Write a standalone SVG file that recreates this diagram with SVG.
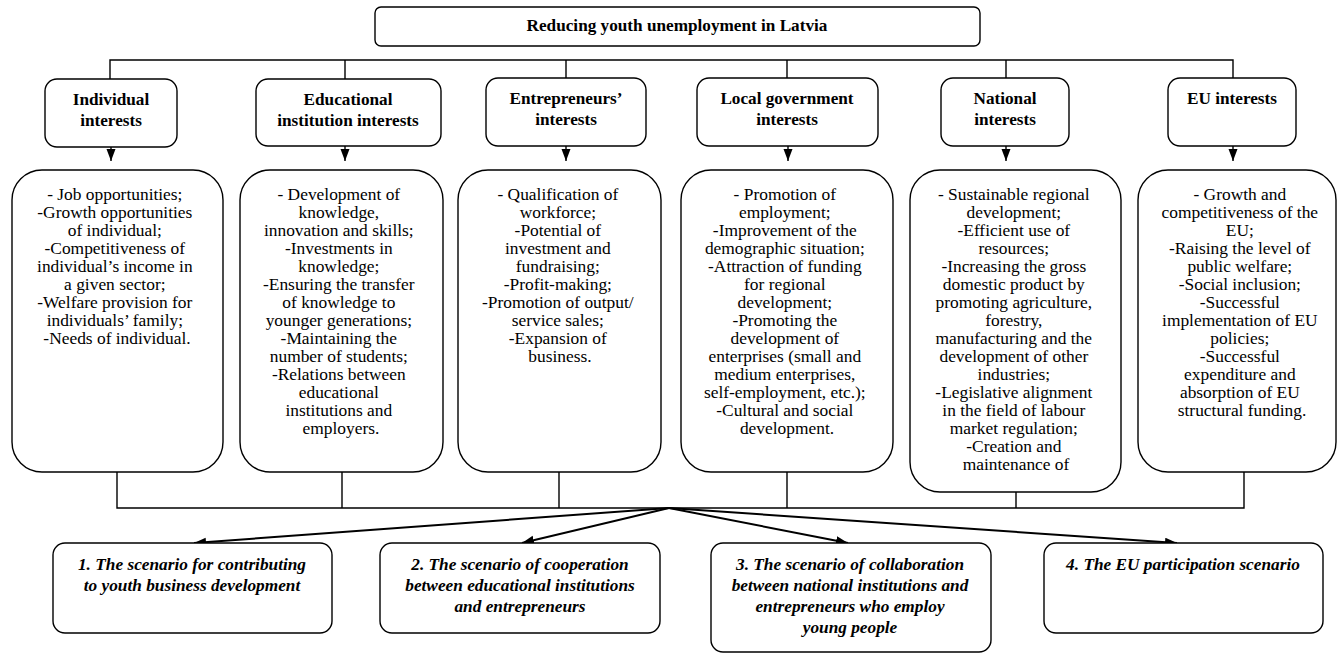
<svg xmlns="http://www.w3.org/2000/svg" width="1338" height="656" viewBox="0 0 1338 656">
<style>
.box{fill:#fff;stroke:#000;stroke-width:1.4}
.ln{fill:none;stroke:#000;stroke-width:1.4}
.ar{fill:none;stroke:#000;stroke-width:2}
.hd{font-family:"Liberation Serif","Times New Roman",serif;font-weight:bold;font-size:17.2px;text-anchor:middle;fill:#000}
.bd{font-family:"Liberation Serif","Times New Roman",serif;font-size:17.4px;text-anchor:middle;fill:#000}
.sc{font-family:"Liberation Serif","Times New Roman",serif;font-weight:bold;font-style:italic;font-size:17.3px;text-anchor:middle;fill:#000}
</style>
<defs>
<marker id="ah" markerUnits="userSpaceOnUse" markerWidth="13" markerHeight="10" refX="12" refY="4.5" orient="auto"><path d="M0,0 L12,4.5 L0,9 z" fill="#000"/></marker>
<clipPath id="natclip"><rect x="905" y="165" width="225" height="312"/></clipPath>
</defs>
<rect width="1338" height="656" fill="#fff"/>

<g id="connectors">
<path class="ln" d="M110,79 V60 H1233 V79 M345,60 V79 M566,60 V79 M787,60 V79 M1006,60 V79"/>
<line class="ln" x1="111" y1="147" x2="111" y2="161" marker-end="url(#ah)"/>
<line class="ln" x1="345" y1="146" x2="345" y2="161" marker-end="url(#ah)"/>
<line class="ln" x1="566" y1="146" x2="566" y2="161" marker-end="url(#ah)"/>
<line class="ln" x1="788" y1="146" x2="788" y2="161" marker-end="url(#ah)"/>
<line class="ln" x1="1006" y1="146" x2="1006" y2="161" marker-end="url(#ah)"/>
<line class="ln" x1="1233" y1="146" x2="1233" y2="161" marker-end="url(#ah)"/>
<path class="ln" d="M117,472 V508 H1244 V472 M342,472 V508 M559,472 V508 M787,472 V508 M1016,492 V508"/>
<line class="ar" x1="669" y1="508" x2="194" y2="543" marker-end="url(#ah)"/>
<line class="ar" x1="669" y1="508" x2="522" y2="543" marker-end="url(#ah)"/>
<line class="ar" x1="669" y1="508" x2="848" y2="543" marker-end="url(#ah)"/>
<line class="ar" x1="669" y1="508" x2="1177" y2="543" marker-end="url(#ah)"/>
</g>

<g id="title">
<rect class="box" x="375" y="7" width="605" height="39" rx="6"/>
<text class="hd" x="677" y="31">Reducing youth unemployment in Latvia</text>
</g>

<g id="h-individual">
<rect class="box" x="45" y="79" width="132" height="68" rx="12"/>
<text class="hd" x="111" y="105">Individual</text>
<text class="hd" x="111" y="126">interests</text>
</g>
<g id="h-educational">
<rect class="box" x="256" y="79" width="185" height="67" rx="12"/>
<text class="hd" x="348" y="105">Educational</text>
<text class="hd" x="348" y="126">institution interests</text>
</g>
<g id="h-entrepreneurs">
<rect class="box" x="486" y="78" width="160" height="68" rx="12"/>
<text class="hd" x="566" y="104">Entrepreneurs’</text>
<text class="hd" x="566" y="125">interests</text>
</g>
<g id="h-local">
<rect class="box" x="697" y="78" width="181" height="68" rx="12"/>
<text class="hd" x="787" y="104">Local government</text>
<text class="hd" x="787" y="125">interests</text>
</g>
<g id="h-national">
<rect class="box" x="941" y="78" width="128" height="68" rx="12"/>
<text class="hd" x="1005" y="104">National</text>
<text class="hd" x="1005" y="125">interests</text>
</g>
<g id="h-eu">
<rect class="box" x="1168" y="78" width="128" height="68" rx="12"/>
<text class="hd" x="1232" y="104">EU interests</text>
</g>

<g id="b-individual">
<rect class="box" x="12" y="170" width="211" height="302" rx="30"/>
<text class="bd" x="117" y="200">
<tspan x="117" dy="0">- Job opportunities;</tspan>
<tspan x="117" dy="18">-Growth opportunities</tspan>
<tspan x="117" dy="18">of individual;</tspan>
<tspan x="117" dy="18">-Competitiveness of</tspan>
<tspan x="117" dy="18">individual’s income in</tspan>
<tspan x="117" dy="18">a given sector;</tspan>
<tspan x="117" dy="18">-Welfare provision for</tspan>
<tspan x="117" dy="18">individuals’ family;</tspan>
<tspan x="117" dy="18">-Needs of individual.</tspan>
</text>
</g>
<g id="b-educational">
<rect class="box" x="240" y="170" width="203" height="302" rx="30"/>
<text class="bd" x="341" y="200">
<tspan x="341" dy="0">- Development of</tspan>
<tspan x="341" dy="18">knowledge,</tspan>
<tspan x="341" dy="18">innovation and skills;</tspan>
<tspan x="341" dy="18">-Investments in</tspan>
<tspan x="341" dy="18">knowledge;</tspan>
<tspan x="341" dy="18">-Ensuring the transfer</tspan>
<tspan x="341" dy="18">of knowledge to</tspan>
<tspan x="341" dy="18">younger generations;</tspan>
<tspan x="341" dy="18">-Maintaining the</tspan>
<tspan x="341" dy="18">number of students;</tspan>
<tspan x="341" dy="18">-Relations between</tspan>
<tspan x="341" dy="18">educational</tspan>
<tspan x="341" dy="18">institutions and</tspan>
<tspan x="341" dy="18">employers.</tspan>
</text>
</g>
<g id="b-entrepreneurs">
<rect class="box" x="458" y="170" width="203" height="302" rx="30"/>
<text class="bd" x="560" y="200">
<tspan x="560" dy="0">- Qualification of</tspan>
<tspan x="560" dy="18">workforce;</tspan>
<tspan x="560" dy="18">-Potential of</tspan>
<tspan x="560" dy="18">investment and</tspan>
<tspan x="560" dy="18">fundraising;</tspan>
<tspan x="560" dy="18">-Profit-making;</tspan>
<tspan x="560" dy="18">-Promotion of output/</tspan>
<tspan x="560" dy="18">service sales;</tspan>
<tspan x="560" dy="18">-Expansion of</tspan>
<tspan x="560" dy="18">business.</tspan>
</text>
</g>
<g id="b-local">
<rect class="box" x="681" y="170" width="212" height="302" rx="30"/>
<text class="bd" x="787" y="200">
<tspan x="787" dy="0">- Promotion of</tspan>
<tspan x="787" dy="18">employment;</tspan>
<tspan x="787" dy="18">-Improvement of the</tspan>
<tspan x="787" dy="18">demographic situation;</tspan>
<tspan x="787" dy="18">-Attraction of funding</tspan>
<tspan x="787" dy="18">for regional</tspan>
<tspan x="787" dy="18">development;</tspan>
<tspan x="787" dy="18">-Promoting the</tspan>
<tspan x="787" dy="18">development of</tspan>
<tspan x="787" dy="18">enterprises (small and</tspan>
<tspan x="787" dy="18">medium enterprises,</tspan>
<tspan x="787" dy="18">self-employment, etc.);</tspan>
<tspan x="787" dy="18">-Cultural and social</tspan>
<tspan x="787" dy="18">development.</tspan>
</text>
</g>
<g id="b-national">
<rect class="box" x="910" y="170" width="211" height="322" rx="30"/>
<text class="bd" x="1016" y="200" clip-path="url(#natclip)">
<tspan x="1016" dy="0">- Sustainable regional</tspan>
<tspan x="1016" dy="18">development;</tspan>
<tspan x="1016" dy="18">-Efficient use of</tspan>
<tspan x="1016" dy="18">resources;</tspan>
<tspan x="1016" dy="18">-Increasing the gross</tspan>
<tspan x="1016" dy="18">domestic product by</tspan>
<tspan x="1016" dy="18">promoting agriculture,</tspan>
<tspan x="1016" dy="18">forestry,</tspan>
<tspan x="1016" dy="18">manufacturing and the</tspan>
<tspan x="1016" dy="18">development of other</tspan>
<tspan x="1016" dy="18">industries;</tspan>
<tspan x="1016" dy="18">-Legislative alignment</tspan>
<tspan x="1016" dy="18">in the field of labour</tspan>
<tspan x="1016" dy="18">market regulation;</tspan>
<tspan x="1016" dy="18">-Creation and</tspan>
<tspan x="1016" dy="18">maintenance of</tspan>
</text>
</g>
<g id="b-eu">
<rect class="box" x="1138" y="170" width="198" height="302" rx="30"/>
<text class="bd" x="1242" y="200">
<tspan x="1242" dy="0">- Growth and</tspan>
<tspan x="1242" dy="18">competitiveness of the</tspan>
<tspan x="1242" dy="18">EU;</tspan>
<tspan x="1242" dy="18">-Raising the level of</tspan>
<tspan x="1242" dy="18">public welfare;</tspan>
<tspan x="1242" dy="18">-Social inclusion;</tspan>
<tspan x="1242" dy="18">-Successful</tspan>
<tspan x="1242" dy="18">implementation of EU</tspan>
<tspan x="1242" dy="18">policies;</tspan>
<tspan x="1242" dy="18">-Successful</tspan>
<tspan x="1242" dy="18">expenditure and</tspan>
<tspan x="1242" dy="18">absorption of EU</tspan>
<tspan x="1242" dy="18">structural funding.</tspan>
</text>
</g>

<g id="s1">
<rect class="box" x="53" y="543" width="279" height="90" rx="12"/>
<text class="sc" x="192" y="570">1. The scenario for contributing</text>
<text class="sc" x="192" y="591">to youth business development</text>
</g>
<g id="s2">
<rect class="box" x="380" y="543" width="280" height="90" rx="12"/>
<text class="sc" x="520" y="570">2. The scenario of cooperation</text>
<text class="sc" x="520" y="591">between educational institutions</text>
<text class="sc" x="520" y="612">and entrepreneurs</text>
</g>
<g id="s3">
<rect class="box" x="711" y="543" width="280" height="109" rx="12"/>
<text class="sc" x="850" y="570">3. The scenario of collaboration</text>
<text class="sc" x="850" y="591">between national institutions and</text>
<text class="sc" x="850" y="612">entrepreneurs who employ</text>
<text class="sc" x="850" y="633">young people</text>
</g>
<g id="s4">
<rect class="box" x="1044" y="543" width="279" height="90" rx="12"/>
<text class="sc" x="1183" y="570">4. The EU participation scenario</text>
</g>
</svg>
